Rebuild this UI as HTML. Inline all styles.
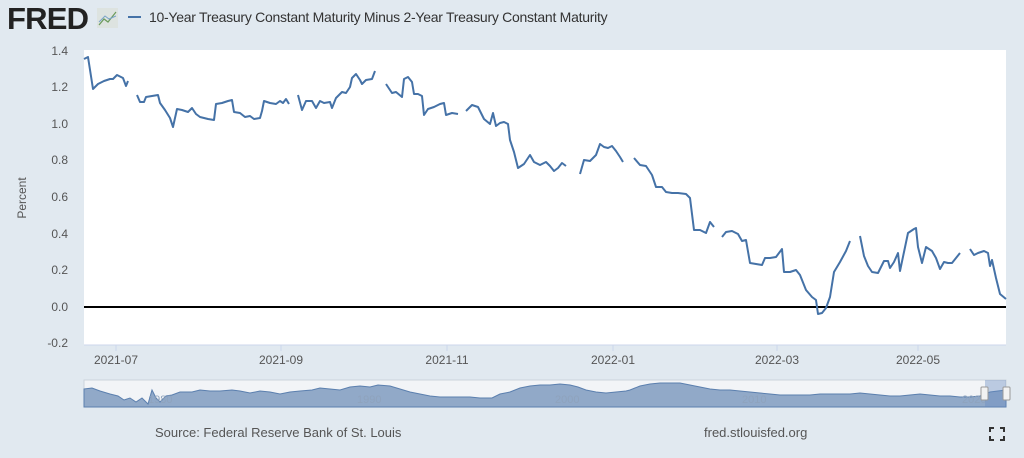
<!DOCTYPE html>
<html><head><meta charset="utf-8"><style>
body{margin:0;width:1024px;height:458px;background:#e1e9f0;font-family:"Liberation Sans",sans-serif;overflow:hidden;position:relative}
.t{position:absolute;color:#444;font-size:12px}
</style></head><body>
<div style="position:absolute;left:7px;top:1px;font-weight:bold;font-size:31px;letter-spacing:-0.8px;color:#222">FRED</div>
<svg style="position:absolute;left:97px;top:8px" width="21" height="20"><rect width="21" height="20" fill="#dde3e0"/><polyline points="2,17 7,11 11,14 19,4" fill="none" stroke="#6a9a5a" stroke-width="1.2"/><polyline points="2,14 8,8 12,11 19,8" fill="none" stroke="#7aa4c8" stroke-width="1"/></svg>
<div style="position:absolute;left:128px;top:16px;width:13px;height:2px;background:#4572a7"></div>
<div class="t" style="left:149px;top:9px;font-size:14px;color:#333;letter-spacing:-0.27px">10-Year Treasury Constant Maturity Minus 2-Year Treasury Constant Maturity</div>
<svg style="position:absolute;left:0;top:0" width="1024" height="458">
<rect x="84" y="50" width="922" height="295" fill="#fff"/>
<g font-family="Liberation Sans" font-size="12" fill="#555" text-anchor="end">
<text x="68" y="55">1.4</text><text x="68" y="91">1.2</text><text x="68" y="128">1.0</text><text x="68" y="164">0.8</text><text x="68" y="201">0.6</text><text x="68" y="238">0.4</text><text x="68" y="274">0.2</text><text x="68" y="311">0.0</text><text x="68" y="347">-0.2</text>
</g>
<text transform="translate(26,198) rotate(-90)" font-family="Liberation Sans" font-size="12" fill="#555" text-anchor="middle">Percent</text>
<line x1="84" y1="307" x2="1006" y2="307" stroke="#000" stroke-width="2"/>
<line x1="84" y1="345" x2="1006" y2="345" stroke="#ccd6eb"/>
<g stroke="#ccd6eb"><line x1="116" y1="345" x2="116" y2="351"/><line x1="281" y1="345" x2="281" y2="351"/><line x1="447" y1="345" x2="447" y2="351"/><line x1="613" y1="345" x2="613" y2="351"/><line x1="777" y1="345" x2="777" y2="351"/><line x1="918" y1="345" x2="918" y2="351"/></g>
<g font-family="Liberation Sans" font-size="12" fill="#555" text-anchor="middle">
<text x="116" y="364">2021-07</text><text x="281" y="364">2021-09</text><text x="447" y="364">2021-11</text><text x="613" y="364">2022-01</text><text x="777" y="364">2022-03</text><text x="918" y="364">2022-05</text>
</g>
<g fill="none" stroke="#4572a7" stroke-width="2" stroke-linejoin="round">
<polyline points="84,59 88,57 93,89 98,84 104,81 110,79 113,79 117,75 123,78 126,86 128,81"/>
<polyline points="137,95 140,102 144,102 146,97 152,96 158,95 160,103 165,110 170,118 173,127 177,109 182,110 188,112 192,108 196,114 200,117 208,119 214,120 216,104 222,103 228,101 232,100 234,112 240,113 245,117 250,116 254,119 260,118 262,111 264,101 270,103 276,104 280,101 283,103 286,99 289,104"/>
<polyline points="298,95 302,110 306,101 312,101 316,108 320,101 324,103 330,102 332,108 336,98 342,92 346,93 350,87 352,78 356,74 360,80 362,84 366,80 372,79 375,71"/>
<polyline points="386,84 392,93 396,92 402,97 404,79 408,77 412,82 414,94 418,94 422,96 424,115 428,109 434,107 440,104 444,103 446,115 452,113 458,114"/>
<polyline points="466,111 472,105 478,107 480,111 484,119 490,124 493,113 496,126 500,123 504,122 508,124 510,140 514,152 518,168 524,164 530,155 534,162 540,165 546,162 550,166 554,171 558,168 562,163 566,166"/>
<polyline points="580,174 584,160 590,161 596,155 600,144 604,147 608,148 612,146 616,151 620,157 623,162"/>
<polyline points="634,158 640,165 646,166 650,172 652,175 656,187 662,187 666,192 672,193 678,193 686,194 690,198 694,230 700,230 706,233 710,222 714,227"/>
<polyline points="722,237 726,232 732,231 738,234 742,241 746,240 750,263 756,264 762,265 765,258 770,258 776,257 782,249 784,272 790,272 796,270 800,275 806,290 812,297 816,300 818,314 822,313 826,308 830,297 834,272 840,262 846,251 850,241"/>
<polyline points="860,236 864,256 868,266 872,272 878,273 884,261 888,261 890,268 894,262 898,253 900,271 904,252 908,233 914,229 916,228 918,247 922,263 926,247 932,251 936,258 940,269 944,262 948,263 952,263 956,258 960,253"/>
<polyline points="970,249 974,255 978,253 984,251 988,253 990,266 992,260 996,278 1000,294 1006,299"/>
</g>
<rect x="84" y="380" width="922" height="27" fill="#f2f4f7" stroke="#ccd3db"/>
<path d="M84,389 L92,388 100,391 110,394 118,396 124,400 130,398 136,402 142,398 148,404 152,390 156,398 160,402 166,396 172,395 180,392 192,392 200,390 210,391 220,391 232,390 240,391 250,393 260,391 270,392 280,394 290,392 300,391 312,390 320,388 330,389 340,390 350,387 360,386 370,387 378,385 390,386 400,389 410,392 420,394 430,396 440,397 450,397 460,397 470,397 480,398 492,398 500,394 510,392 520,388 530,386 540,385 550,385 560,384 570,385 578,387 586,390 596,392 606,393 616,392 626,391 630,390 640,386 650,384 660,383 670,383 680,383 690,385 700,387 710,389 720,390 730,390 740,391 750,392 760,393 770,394 780,395 790,395 800,395 810,395 820,394 830,394 840,394 850,394 860,393 870,394 880,395 890,396 900,396 910,395 920,394 930,395 940,396 950,396 960,397 970,397 980,396 990,392 1006,390 L1006,407 84,407Z" fill="#91a9c8" stroke="#5b7fae" stroke-width="1"/>
<g font-family="Liberation Sans" font-size="11" fill="#8fa3bd"><text x="148" y="403">1980</text><text x="357" y="403">1990</text><text x="555" y="403">2000</text><text x="742" y="403">2010</text><text x="962" y="403">2020</text></g>
<rect x="985" y="380" width="21" height="27" fill="#6a8cc0" fill-opacity="0.4"/>
<rect x="981" y="387" width="7" height="13" rx="1" fill="#f2f2f2" stroke="#999"/>
<rect x="1003" y="387" width="7" height="13" rx="1" fill="#f2f2f2" stroke="#999"/>
<g stroke="#333" stroke-width="2" fill="none"><path d="M990,432 v-4 h4"/><path d="M1000,428 h4 v4"/><path d="M990,436 v4 h4"/><path d="M1000,440 h4 v-4"/></g>
</svg>
<div class="t" style="left:155px;top:425px;font-size:13px;color:#555">Source: Federal Reserve Bank of St. Louis</div>
<div class="t" style="left:704px;top:425px;font-size:13px;color:#555">fred.stlouisfed.org</div>
</body></html>
